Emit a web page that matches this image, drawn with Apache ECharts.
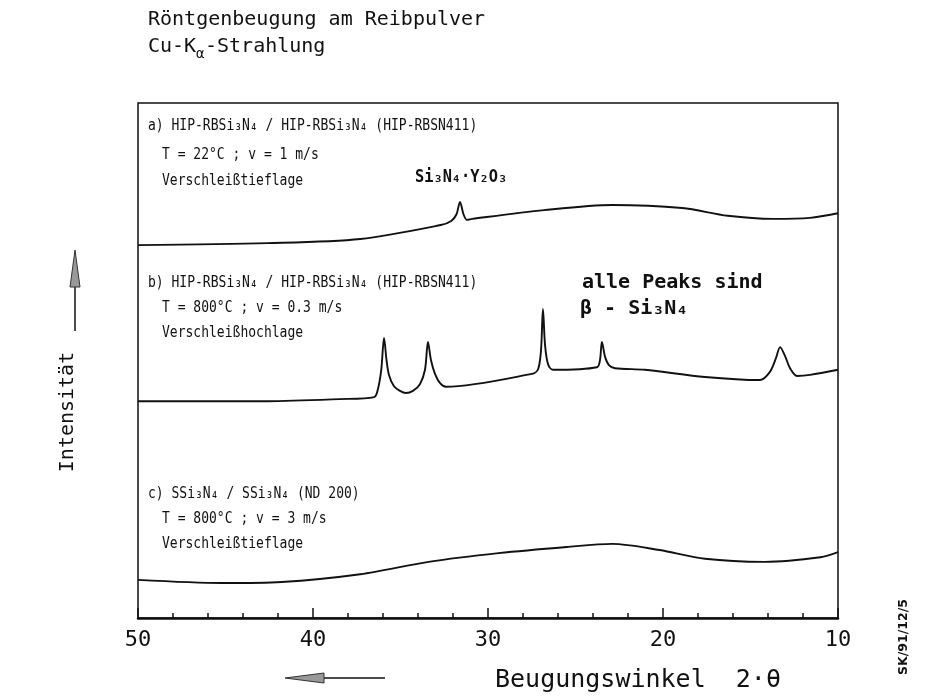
<!DOCTYPE html>
<html><head><meta charset="utf-8">
<script src="https://cdn.jsdelivr.net/npm/echarts@6/dist/echarts.min.js"></script>
<style>html,body{margin:0;padding:0;background:#fff}#c{width:937px;height:696px}</style>
</head><body><div id="c"></div>
<script>
// Diffraction angle 2θ (degrees) and relative intensity (arbitrary units, 0..100)
const angleA = [50, 42.6, 37.3, 32.7, 32.1, 31.8, 31.6, 31.4, 31.2, 30.9, 26.8, 22.9, 18.9, 16.3, 13.7, 11.6, 10];
const intensA = [72.4, 72.8, 73.6, 76.3, 77.1, 78.4, 80.8, 78.4, 77.3, 77.5, 79.2, 80.2, 79.6, 78.1, 77.5, 77.7, 78.6];

const angleB = [50, 42.6, 38.5, 36.5, 36.3, 36.1, 35.94, 35.8, 35.66, 35.37, 35.03, 34.69, 34.29, 33.89, 33.6, 33.43, 33.26, 33.03, 32.74, 32.4,
  27.49, 27.14, 26.97, 26.86, 26.74, 26.57, 26.29, 23.77, 23.6, 23.49, 23.31, 23.09, 22.74, 21.03, 17.6, 14.46, 13.89, 13.54, 13.31, 13.03, 12.74, 12.34, 11.6, 10];
const intensB = [42.1, 42.1, 42.5, 42.9, 44.3, 48.2, 54.4, 50.1, 47.2, 45.0, 44.1, 43.7, 44.1, 45.4, 48.2, 53.6, 50.1, 47.4, 45.6, 44.9,
  47.4, 48.3, 52.0, 60.0, 53.0, 49.3, 48.2, 48.7, 50.1, 53.6, 50.7, 49.1, 48.5, 48.2, 46.8, 46.2, 47.8, 50.5, 52.6, 50.9, 48.5, 47.0, 47.2, 48.2];

const angleC = [50, 45.2, 41.8, 37.3, 33.4, 29.4, 25.5, 22.9, 20.2, 17.6, 14.2, 11.0, 10];
const intensC = [7.4, 6.8, 7.0, 8.5, 10.9, 12.6, 13.8, 14.4, 13.2, 11.5, 10.9, 11.8, 12.8];

const xTicks = [50, 40, 30, 20, 10];

const zip = (xs, ys) => xs.map((x, i) => [x, ys[i]]);
const mono = "'DejaVu Sans Mono', 'Liberation Mono', monospace";
const sans = "'DejaVu Sans', sans-serif";

function txt(x, y, s, font, extra) {
  return Object.assign({
    type: 'text', x: x, y: y, z: 10,
    style: { text: s, fill: '#111', font: font, textAlign: 'left', textVerticalAlign: 'middle' }
  }, extra || {});
}
// condensed plotter-style annotation text
function ann(x, y, s) {
  return txt(x, y, s, '15.5px ' + mono, { scaleX: 0.84 });
}

const chart = echarts.init(document.getElementById('c'));
const lineStyle = { color: '#111', width: 1.9 };
chart.setOption({
  animation: false,
  backgroundColor: '#fff',
  grid: { left: 138, right: 99, top: 103, bottom: 78, show: true, borderColor: '#111', borderWidth: 1.5, backgroundColor: 'transparent' },
  xAxis: {
    type: 'value', min: 10, max: 50, interval: 10, inverse: true,
    axisLine: { show: true, lineStyle: { color: '#111', width: 2.5 } },
    axisTick: { show: true, inside: true, length: 10, lineStyle: { color: '#111', width: 1.5 } },
    minorTick: { show: true, splitNumber: 5, length: 5, lineStyle: { color: '#111', width: 1.5 } },
    splitLine: { show: false },
    axisLabel: { show: true, margin: 11, color: '#111', fontFamily: mono, fontSize: 22,
      formatter: v => xTicks.includes(v) ? String(v) : '' }
  },
  yAxis: { type: 'value', min: 0, max: 100, show: false, splitLine: { show: false } },
  series: [
    { type: 'line', data: zip(angleA, intensA), showSymbol: false, smooth: 0.3, lineStyle: lineStyle },
    { type: 'line', data: zip(angleB, intensB), showSymbol: false, smooth: 0.3, lineStyle: lineStyle },
    { type: 'line', data: zip(angleC, intensC), showSymbol: false, smooth: 0.3, lineStyle: lineStyle }
  ],
  graphic: [
    txt(148, 20, 'Röntgenbeugung am Reibpulver', '20px ' + mono),
    txt(148, 47, 'Cu-K', '20px ' + mono),
    txt(196, 54, 'α', '14px ' + mono),
    txt(205, 47, '-Strahlung', '20px ' + mono),

    ann(148, 126, 'a) HIP-RBSi₃N₄ / HIP-RBSi₃N₄ (HIP-RBSN411)'),
    ann(162, 155, 'T = 22°C ; v = 1 m/s'),
    ann(162, 181, 'Verschleißtieflage'),
    txt(415, 178, 'Si₃N₄·Y₂O₃', 'bold 17px ' + mono, { scaleX: 0.9 }),

    ann(148, 283, 'b) HIP-RBSi₃N₄ / HIP-RBSi₃N₄ (HIP-RBSN411)'),
    ann(162, 308, 'T = 800°C ; v = 0.3 m/s'),
    ann(162, 333, 'Verschleißhochlage'),
    txt(582, 283, 'alle Peaks sind', 'bold 20px ' + mono),
    txt(580, 309, 'β - Si₃N₄', 'bold 20px ' + mono),

    ann(148, 494, 'c) SSi₃N₄ / SSi₃N₄ (ND 200)'),
    ann(162, 519, 'T = 800°C ; v = 3 m/s'),
    ann(162, 544, 'Verschleißtieflage'),

    { type: 'text', x: 68, y: 412, rotation: Math.PI / 2, z: 10,
      style: { text: 'Intensität', fill: '#111', font: '20px ' + mono, textAlign: 'center', textVerticalAlign: 'middle' } },
    txt(495, 680, 'Beugungswinkel  2·θ', '25px ' + mono),
    { type: 'text', x: 904, y: 637, rotation: Math.PI / 2, z: 10,
      style: { text: 'SK/91/12/5', fill: '#111', font: 'bold 12.5px ' + sans, textAlign: 'center', textVerticalAlign: 'middle' } },

    // vertical arrow
    { type: 'line', shape: { x1: 75, y1: 283, x2: 75, y2: 331 }, style: { stroke: '#111', lineWidth: 1.5 } },
    { type: 'polygon', shape: { points: [[75, 250], [70, 287], [80, 287]] }, style: { fill: '#999', stroke: '#333', lineWidth: 1 } },
    // horizontal arrow
    { type: 'line', shape: { x1: 322, y1: 678, x2: 385, y2: 678 }, style: { stroke: '#111', lineWidth: 1.5 } },
    { type: 'polygon', shape: { points: [[285, 678], [324, 673], [324, 683]] }, style: { fill: '#999', stroke: '#333', lineWidth: 1 } }
  ]
});
</script></body></html>
